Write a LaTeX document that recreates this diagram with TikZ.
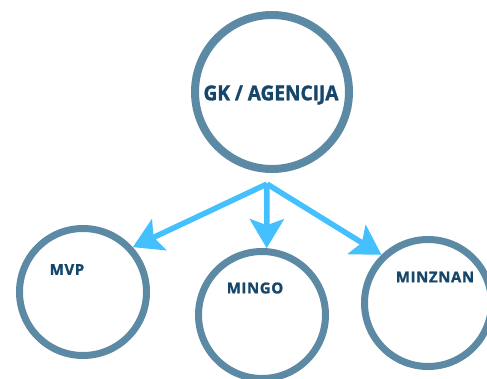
\documentclass[tikz,border=0pt]{standalone}
\usepackage{fontspec}
\setmainfont{Open Sans}
\usetikzlibrary{arrows.meta}
\definecolor{ringcol}{RGB}{92,138,164}
\definecolor{txtcol}{RGB}{22,70,106}
\definecolor{arrcol}{RGB}{68,192,255}
\tikzset{
  bigring/.style={circle, draw=ringcol, line width=8pt, minimum size=154pt, inner sep=0pt, fill=white},
  ring/.style={circle, draw=ringcol, line width=7pt, minimum size=127pt, inner sep=0pt, fill=white},
  bigtxt/.style={text=txtcol, font=\fontsize{20.5}{23}\selectfont\bfseries\addfontfeature{FakeBold=1.5}, inner sep=0pt},
  smalltxt/.style={text=txtcol, font=\fontsize{15}{17}\selectfont\bfseries\addfontfeature{LetterSpace=4,FakeBold=1.2}, inner sep=0pt},
  conn/.style={draw=arrcol, line width=5.5pt, -{Stealth[length=29pt, width=34pt, inset=6pt]}}
}
\begin{document}
\begin{tikzpicture}[x=1pt, y=-1pt]
\useasboundingbox (0,0) rectangle (487,379);
\node[bigring] (top) at (272,92) {};
\node[ring] (mvp) at (83,292) {};
\node[ring] (mingo) at (262,315) {};
\node[ring] (minz) at (428,303) {};
\node[bigtxt] (toptxt) at (271,95) {\scalebox{0.93}[1]{GK / AGENCIJA}};
\node[smalltxt] (mvptxt) at (67,269.5) {MVP};
\node[smalltxt] (mingotxt) at (255,288) {MINGO};
\node[smalltxt] (minztxt) at (435,277) {MINZNAN};
\coordinate (hub) at (267,184);
\draw[conn] (hub) -- (mvp.42);
\draw[conn] (hub) -- (mingo.86);
\draw[conn] (hub) -- (minz.134);
\end{tikzpicture}
\end{document}
